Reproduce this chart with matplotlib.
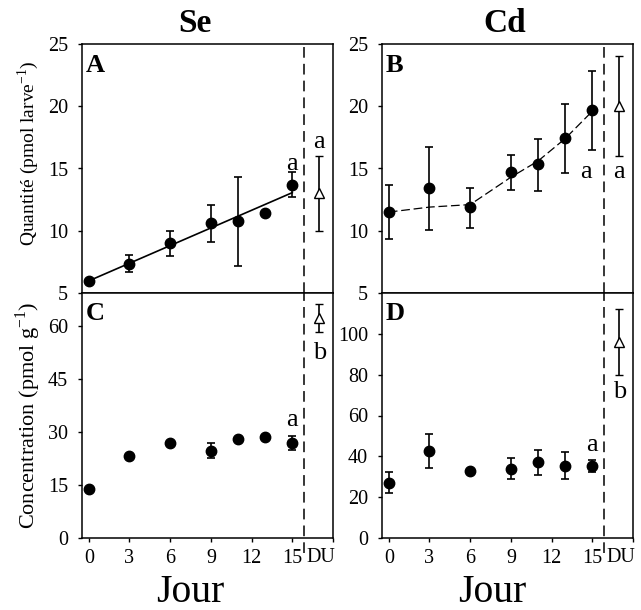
import numpy as np
import matplotlib
matplotlib.use("Agg")
from matplotlib import pyplot as plt
import matplotlib.transforms as mtransforms

plt.rcParams["font.family"] = ["Liberation Serif", "DejaVu Serif"]
plt.rcParams["mathtext.fontset"] = "custom"
plt.rcParams["mathtext.rm"] = "Liberation Serif"

# Days of sampling and the DU position
DAYS = [0, 3, 6, 9, 11, 13, 15]
DU_X = 17

# Se quantity (panel A)
se_qty = [5.95, 7.35, 9.0, 10.6, 10.75, 11.4, 13.7]
se_qty_err = [0.0, 0.7, 1.0, 1.5, 3.55, 0.0, 1.0]
se_qty_du, se_qty_du_err = 13.0, 3.0

# Cd quantity (panel B) + trend curve
cd_qty = [11.5, 13.4, 11.9, 14.7, 15.35, 17.45, 19.7]
cd_qty_lo = [9.35, 10.1, 10.2, 13.25, 13.2, 14.6, 16.5]
cd_qty_hi = [13.65, 16.7, 13.45, 16.05, 17.4, 20.2, 22.8]
cd_trend = [11.5, 11.9, 12.1, 14.3, 15.6, 17.4, 19.6]
cd_qty_du, cd_qty_du_err = 20.0, 4.0

# Se concentration (panel C)
se_conc = [14.0, 23.2, 27.0, 24.8, 28.2, 28.6, 26.9]
se_conc_err = [0.0, 0.0, 0.0, 2.2, 0.0, 0.0, 2.0]
se_conc_du, se_conc_du_err = 62.3, 4.0

# Cd concentration (panel D)
cd_conc = [27.0, 42.5, 32.8, 34.0, 37.0, 35.5, 35.2]
cd_conc_err = [5.2, 8.3, 0.0, 5.3, 6.2, 6.7, 3.1]
cd_conc_du, cd_conc_du_err = 96.0, 16.2

W, H = 641, 610
fig = plt.figure(figsize=(W / 100, H / 100), dpi=100)

def px_axes(x0, y0, x1, y1):
    return fig.add_axes([x0 / W, 1 - y1 / H, (x1 - x0) / W, (y1 - y0) / H])

axA = px_axes(82, 44, 333, 293)
axB = px_axes(382, 44, 633, 293)
axC = px_axes(82, 293, 333, 538)
axD = px_axes(382, 293, 633, 538)

DASH_X = 15.85
TICK_FS = 14.5
LET_FS = 19

def style(ax, ylim, yticks, bottom):
    ax.set_xlim(-0.5, 18)
    ax.set_ylim(*ylim)
    ax.set_yticks(yticks)
    ax.tick_params(axis="y", direction="out", length=3, width=1,
                   labelsize=TICK_FS, right=False, pad=7)
    for s in ax.spines.values():
        s.set_linewidth(1.1)
    if bottom:
        ax.set_xticks([0, 3, 6, 9, 12, 15, 18])
        ax.set_xticklabels(["0", "3", "6", "9", "12", "15", ""])
        ax.tick_params(axis="x", direction="out", length=3, width=1,
                       labelsize=TICK_FS, pad=5, top=False)
        ax.text(16.05, -0.04, "DU", fontsize=TICK_FS, ha="left", va="top",
                transform=mtransforms.blended_transform_factory(ax.transData, ax.transAxes))
        ax.plot([DASH_X, DASH_X], [-0.06, 1.0], color="black", lw=1.1,
                dashes=(7, 4), clip_on=False,
                transform=mtransforms.blended_transform_factory(ax.transData, ax.transAxes))
    else:
        ax.set_xticks([])
        ax.axvline(DASH_X, color="black", lw=1.1, dashes=(7, 4))

def points(ax, y, yerr):
    ax.errorbar(DAYS, y, yerr=yerr, fmt="o", color="black", ms=7.5,
                ecolor="black", elinewidth=1.2, capsize=3, capthick=1.2, zorder=3)

def du_point(ax, y, err):
    ax.errorbar([DU_X], [y], yerr=[err], fmt="^", mfc="white", mec="black",
                ms=7, mew=1, ecolor="black", elinewidth=1.2, capsize=3,
                capthick=1.2, zorder=3)

# Panel A
style(axA, (5, 25), [5, 10, 15, 20, 25], False)
coef = np.polyfit(DAYS, se_qty, 1)
xs = np.array([0, 15])
axA.plot(xs, np.polyval(coef, xs), color="black", lw=1.2, zorder=2)
points(axA, se_qty, se_qty_err)
du_point(axA, se_qty_du, se_qty_du_err)
axA.text(15, 15.4, "a", fontsize=LET_FS, ha="center", va="center")
axA.text(DU_X, 17.1, "a", fontsize=LET_FS, ha="center", va="center")
axA.text(0.016, 0.96, "A", fontsize=LET_FS, fontweight="bold", ha="left", va="top",
         transform=axA.transAxes)

# Panel B
style(axB, (5, 25), [5, 10, 15, 20, 25], False)
axB.plot(DAYS, cd_trend, color="black", lw=0.9, dashes=(7, 3), zorder=2)
cd_err = [np.subtract(cd_qty, cd_qty_lo), np.subtract(cd_qty_hi, cd_qty)]
points(axB, cd_qty, cd_err)
du_point(axB, cd_qty_du, cd_qty_du_err)
axB.text(14.55, 14.7, "a", fontsize=LET_FS, ha="center", va="center")
axB.text(DU_X, 14.7, "a", fontsize=LET_FS, ha="center", va="center")
axB.text(0.016, 0.96, "B", fontsize=LET_FS, fontweight="bold", ha="left", va="top",
         transform=axB.transAxes)

# Panel C
style(axC, (0, 69.5), [0, 15, 30, 45, 60], True)
points(axC, se_conc, se_conc_err)
du_point(axC, se_conc_du, se_conc_du_err)
axC.text(15, 33.5, "a", fontsize=LET_FS, ha="center", va="center")
axC.text(DU_X, 52.5, "b", fontsize=LET_FS, ha="center", va="center")
axC.text(0.016, 0.965, "C", fontsize=LET_FS, fontweight="bold", ha="left", va="top",
         transform=axC.transAxes)

# Panel D
style(axD, (0, 120), [0, 20, 40, 60, 80, 100], True)
points(axD, cd_conc, cd_conc_err)
du_point(axD, cd_conc_du, cd_conc_du_err)
axD.text(15, 45.5, "a", fontsize=LET_FS, ha="center", va="center")
axD.text(DU_X, 71.5, "b", fontsize=LET_FS, ha="center", va="center")
axD.text(0.016, 0.965, "D", fontsize=LET_FS, fontweight="bold", ha="left", va="top",
         transform=axD.transAxes)

# Titles and shared labels
fig.text(195 / W, 1 - 23 / H, "Se", fontsize=24, fontweight="bold", ha="center", va="center")
fig.text(505 / W, 1 - 23 / H, "Cd", fontsize=24, fontweight="bold", ha="center", va="center")
fig.text(190 / W, 1 - 592 / H, "Jour", fontsize=28.5, ha="center", va="center")
fig.text(492 / W, 1 - 592 / H, "Jour", fontsize=28.5, ha="center", va="center")
fig.text(28 / W, 1 - 153 / H, "Quantité (pmol larve$^{-1}$)", fontsize=14,
         rotation=90, ha="center", va="center")
fig.text(28 / W, 1 - 415 / H, "Concentration (pmol g$^{-1}$)", fontsize=16,
         rotation=90, ha="center", va="center")

fig.savefig("out.png", dpi=100)
